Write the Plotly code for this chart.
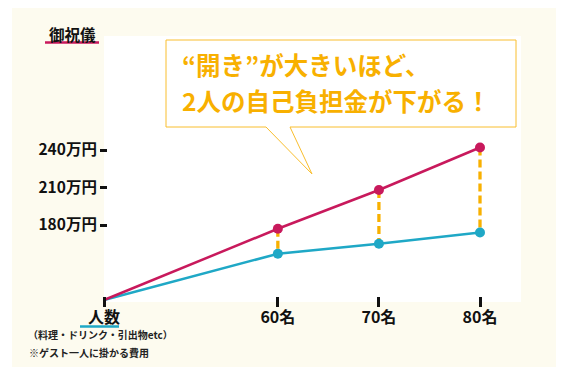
import plotly.graph_objects as go

# ---- data ----
guests = [60, 70, 80]
guest_labels = ["60名", "70名", "80名"]
oiwai = [177, 208, 242]        # 御祝儀 (万円)
cost = [157, 165, 174]         # 費用 (万円)
y_ticks = [180, 210, 240]
y_tick_labels = ["180万円", "210万円", "240万円"]
origin_label = "人数"
base_value = 120               # value at the drawn origin
origin_guests = 42.8           # compressed origin position on the guest axis

# ---- layout geometry (targets given in window pixels; page body has an 8px margin) ----
OFF = 8
W, H = 567 - OFF, 377 - OFF
L, R, T, B = 98 - OFF, 43, 34 - OFF, 73
PW, PH = W - L - R, H - T - B

def px(x):
    return (x - OFF - L) / PW

def py(y):
    return (H - B - (y - OFF)) / PH

# axis ranges from pixel targets
x_per = (480 - 104) / (guests[-1] - origin_guests)
xmin = origin_guests - (104 - OFF - L) / x_per
xmax = guests[-1] + (L + PW - (480 - OFF)) / x_per
y_per = 1.25
ymin = base_value - ((T + PH) - (300 - OFF)) / y_per
ymax = base_value + ((300 - OFF) - T) / y_per

RED = "#C8195C"
TEAL = "#1FA8C6"
GOLD = "#F8B000"
FONT = "Noto Sans CJK JP"

fig = go.Figure()

# dashed connectors
dx, dy = [], []
for g, a, c in zip(guests, oiwai, cost):
    dx += [g, g, None]
    dy += [a, c, None]
fig.add_trace(go.Scatter(x=dx, y=dy, mode="lines",
                         line=dict(color=GOLD, width=3.3, dash="8px,4px"),
                         hoverinfo="skip", showlegend=False))

# lines from origin
for vals, col in [(cost, TEAL), (oiwai, RED)]:
    fig.add_trace(go.Scatter(x=[origin_guests] + guests, y=[base_value] + vals,
                             mode="lines", line=dict(color=col, width=2.5),
                             showlegend=False))
    fig.add_trace(go.Scatter(x=guests, y=vals, mode="markers",
                             marker=dict(color=col, size=10),
                             showlegend=False, cliponaxis=False))

shapes = [
    # cream background
    dict(type="rect", xref="paper", yref="paper", x0=px(12), x1=px(556),
         y0=py(367), y1=py(8), fillcolor="#FDFBEF", line=dict(width=0), layer="below"),
    # white chart area
    dict(type="rect", xref="paper", yref="paper", x0=px(104), x1=px(521),
         y0=py(302), y1=py(36), fillcolor="white", line=dict(width=0), layer="below"),
    # title underline
    dict(type="line", xref="paper", yref="paper", x0=px(45), x1=px(99),
         y0=py(42.5), y1=py(42.5), line=dict(color=RED, width=2.5)),
    # 人数 underline
    dict(type="line", xref="paper", yref="paper", x0=px(80), x1=px(119),
         y0=py(326.5), y1=py(326.5), line=dict(color=TEAL, width=2.5)),
]

# callout box with tail
pts = [(166, 40), (516, 40), (516, 127), (290, 127), (312, 174), (266, 127), (166, 127)]
path = "M " + " L ".join(f"{px(x)},{py(y)}" for x, y in pts) + " Z"
shapes.append(dict(type="path", xref="paper", yref="paper", path=path,
                   fillcolor="white", line=dict(color="#F9BE2E", width=1), layer="above"))

annotations = [
    dict(text="御祝儀", xref="paper", yref="paper", x=px(72.5), y=py(33.5),
         showarrow=False, font=dict(family=FONT, size=15.5, color="#111", weight="bold"),
         xanchor="center", yanchor="middle"),
    dict(text="“開き”が大きいほど、", xref="paper", yref="paper", x=px(180), y=py(64),
         showarrow=False, font=dict(family=FONT, size=24.5, color=GOLD, weight="bold"),
         xanchor="left", yanchor="middle"),
    dict(text="2人の自己負担金が下がる！", xref="paper", yref="paper", x=px(180), y=py(100),
         showarrow=False, font=dict(family=FONT, size=24.5, color=GOLD, weight="bold"),
         xanchor="left", yanchor="middle"),
    dict(text="（料理・ドリンク・引出物etc）", xref="paper", yref="paper", x=px(26), y=py(335),
         showarrow=False, font=dict(family=FONT, size=10, color="#222", weight="bold"),
         xanchor="left", yanchor="middle"),
    dict(text="※ゲスト一人に掛かる費用", xref="paper", yref="paper", x=px(27), y=py(352),
         showarrow=False, font=dict(family=FONT, size=10, color="#222", weight="bold"),
         xanchor="left", yanchor="middle"),
]

fig.update_layout(
    width=W, height=H,
    margin=dict(l=L, r=R, t=T, b=B, pad=0),
    paper_bgcolor="white", plot_bgcolor="rgba(0,0,0,0)",
    shapes=shapes, annotations=annotations,
    xaxis=dict(range=[xmin, xmax], anchor="free", position=py(296),
               tickvals=[origin_guests] + guests, ticktext=[origin_label] + guest_labels,
               ticks="outside", ticklen=10, tickwidth=3, tickcolor="#111",
               ticklabelstandoff=-3,
               showgrid=False, zeroline=False, showline=False,
               tickfont=dict(family=FONT, size=16, color="#111", weight="bold")),
    yaxis=dict(range=[ymin, ymax], anchor="free", position=px(107),
               tickvals=y_ticks, ticktext=y_tick_labels,
               ticks="outside", ticklen=7, tickwidth=3, tickcolor="#111",
               showgrid=False, zeroline=False, showline=False,
               tickfont=dict(family=FONT, size=15.5, color="#111", weight="bold")),
    showlegend=False,
)

fig.write_html("out.html")
